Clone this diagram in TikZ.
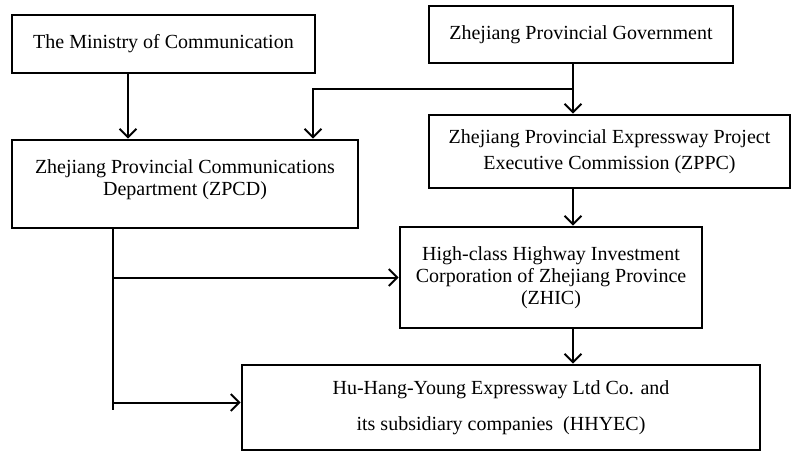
\documentclass[tikz,border=0pt]{standalone}
\usepackage{fontspec}
\setmainfont{Liberation Serif}
\usetikzlibrary{arrows.meta,calc}

\tikzset{
  box/.style={draw, line width=2.6pt, align=center, inner sep=2pt,
    font=\fontsize{20}{22}\selectfont},
  arr/.style={line width=2pt, -{Straight Barb[length=8.5pt,width=17pt,line width=2pt]}},
  trunk/.style={line width=2pt}
}

\begin{document}
\begin{tikzpicture}[x=1pt,y=-1pt]
  \useasboundingbox (0,0) rectangle (792,452);
  % boxes
  \node[box, minimum width=303pt, minimum height=58pt] (ministry) at (163.5,44)
    {The Ministry of Communication};
  \node[box, minimum width=304pt, minimum height=57pt] (gov) at (581,34.5)
    {Zhejiang Provincial Government};
  \node[box, minimum width=346pt, minimum height=88pt] (zpcd) at (185,184)
    {Zhejiang Provincial Communications\\ Department (ZPCD)\\[-10pt]};
  \node[box, minimum width=361pt, minimum height=73pt] (zppc) at (609.5,151.5)
    {Zhejiang Provincial Expressway Project\\[4pt] Executive Commission (ZPPC)};
  \node[box, minimum width=302pt, minimum height=101pt] (zhic) at (551,277.5)
    {High-class Highway Investment\\ Corporation of Zhejiang Province\\ (ZHIC)};
  \node[box, minimum width=518pt, minimum height=85pt] (hhyec) at (501,407.5)
    {Hu-Hang-Young Expressway Ltd Co. and\\[14pt] its subsidiary companies~ (HHYEC)};

  % helper points
  \coordinate (mx) at (128,0);
  \coordinate (gx) at (573,0);
  \coordinate (dx) at (313,0);
  \coordinate (tx) at (113,0);
  \coordinate (split) at (573,89);
  \coordinate (tend) at (113,410);

  % connectors
  \draw[arr] (ministry.south -| mx) -- (zpcd.north -| mx);
  \draw[arr] (gov.south -| gx) -- (zppc.north -| gx);
  \draw[arr] (split) -| (zpcd.north -| dx);
  \draw[arr] (zppc.south -| gx) -- (zhic.north -| gx);
  \draw[arr] (zhic.south -| gx) -- (hhyec.north -| gx);
  \draw[trunk] (zpcd.south -| tx) -- (tend);
  \draw[arr] (tx |- zhic.west) -- (zhic.west);
  \draw[arr] ($(tx |- hhyec.west)+(0,-5)$) -- ($(hhyec.west)+(0,-5)$);
\end{tikzpicture}
\end{document}
